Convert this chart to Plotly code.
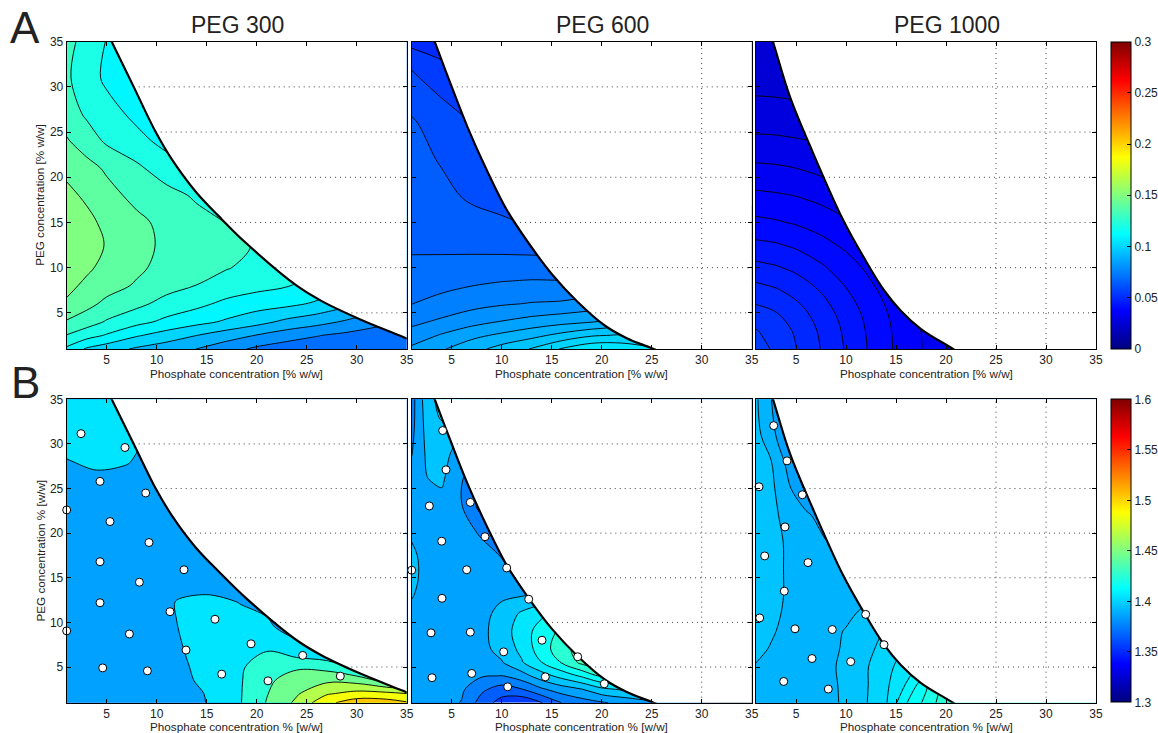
import numpy as np
import plotly.graph_objects as go

# ------------------------------------------------------------------ data
AX_RANGE = [1, 35]
AXIS_TICKS = [5, 10, 15, 20, 25, 30, 35]
CLIM_A = [0.0, 0.3]
CLIM_B = [1.3, 1.6]
CBAR_A_TICKS = [0, 0.05, 0.1, 0.15, 0.2, 0.25, 0.3]
CBAR_A_TEXT = ["0", "0.05", "0.1", "0.15", "0.2", "0.25", "0.3"]
CBAR_B_TICKS = [1.3, 1.35, 1.4, 1.45, 1.5, 1.55, 1.6]
CBAR_B_TEXT = ["1.3", "1.35", "1.4", "1.45", "1.5", "1.55", "1.6"]
PANEL_TITLES = ["PEG 300", "PEG 600", "PEG 1000"]
ROW_LETTERS = ["A", "B"]
XTITLE_A = "Phosphate concentration [% w/w]"
XTITLE_B = "Phosphate concentration % [w/w]"
YTITLE_A = "PEG concentration [% w/w]"
YTITLE_B = "PEG concentration % [w/w]"

# binodal curves (phosphate %, PEG %)
BIN300_X = [5.5, 7.7, 9.9, 11.5, 13.9, 16.2, 18.9, 24.0, 26.5, 30.3, 34.7]
BIN300_Y = [35.0, 30.0, 25.0, 22.0, 18.4, 15.7, 12.75, 8.0, 6.3, 4.3, 2.3]
BIN600_X = [3.3, 4.9, 6.6, 8.5, 10.5, 12.7, 15.0, 17.6, 20.3, 22.5, 25.2]
BIN600_Y = [35.0, 30.3, 25.5, 20.8, 16.4, 12.7, 9.3, 6.2, 3.6, 2.2, 1.0]
BIN1000_X = [2.7, 4.4, 6.7, 9.7, 11.9, 13.8, 15.5, 17.5, 20.7]
BIN1000_Y = [35.0, 28.9, 22.7, 15.3, 10.9, 7.5, 5.2, 3.2, 1.0]

# ---- A row: response 0..0.3
A1_X = [1, 3, 5, 8, 11, 14, 17, 20, 23, 26, 29, 32, 35]
A1_Y = [1, 2.5, 4, 6, 8, 10, 12.5, 15, 18, 21, 24, 27, 31, 35]
A1_Z = [
    [0.113, 0.1037, 0.0993, 0.0935, 0.0893, 0.0849, 0.079, 0.073, 0.0695, 0.0685, 0.0672, 0.0665, 0.066],
    [0.1245, 0.119, 0.114, 0.106, 0.1005, 0.095, 0.0895, 0.0845, 0.0795, 0.0755, 0.0725, 0.070, 0.068],
    [0.134, 0.1295, 0.124, 0.118, 0.1125, 0.108, 0.1035, 0.0985, 0.0925, 0.0885, 0.0835, 0.078, 0.074],
    [0.1435, 0.138, 0.1325, 0.1275, 0.1215, 0.1176, 0.1125, 0.1095, 0.1075, 0.1035, 0.0975, 0.091, 0.086],
    [0.1478, 0.1428, 0.139, 0.1338, 0.1285, 0.1248, 0.121, 0.118, 0.1155, 0.112, 0.107, 0.101, 0.095],
    [0.1505, 0.1468, 0.142, 0.137, 0.1315, 0.128, 0.1255, 0.1225, 0.120, 0.116, 0.111, 0.105, 0.099],
    [0.152, 0.1495, 0.1443, 0.1385, 0.1328, 0.1295, 0.127, 0.1245, 0.122, 0.118, 0.113, 0.107, 0.101],
    [0.1512, 0.1477, 0.1425, 0.1375, 0.132, 0.1285, 0.1248, 0.122, 0.119, 0.115, 0.11, 0.105, 0.10],
    [0.1475, 0.1433, 0.1385, 0.132, 0.1285, 0.1235, 0.120, 0.117, 0.114, 0.110, 0.106, 0.101, 0.096],
    [0.1425, 0.1385, 0.1335, 0.127, 0.1195, 0.114, 0.110, 0.107, 0.104, 0.100, 0.097, 0.093, 0.089],
    [0.136, 0.130, 0.1235, 0.118, 0.112, 0.108, 0.104, 0.101, 0.098, 0.095, 0.092, 0.089, 0.086],
    [0.130, 0.1235, 0.119, 0.1125, 0.108, 0.104, 0.100, 0.097, 0.094, 0.091, 0.088, 0.085, 0.082],
    [0.1265, 0.1195, 0.113, 0.108, 0.104, 0.100, 0.097, 0.094, 0.091, 0.088, 0.085, 0.082, 0.079],
    [0.128, 0.1215, 0.1145, 0.109, 0.105, 0.101, 0.098, 0.095, 0.092, 0.089, 0.086, 0.083, 0.080],
]
A1_LEVELS = [0.065, 0.145, 0.01]

A2_X = [1, 4, 7, 10, 13, 16, 19, 22, 25, 35]
A2_Y = [1, 2.5, 4, 6, 8.5, 10, 12, 14, 18, 22, 26, 29, 32, 35]
A2_Z = [
    [0.0835, 0.0870, 0.0905, 0.0945, 0.0978, 0.1030, 0.1065, 0.1060, 0.1035, 0.1000],
    [0.0797, 0.0830, 0.0862, 0.0885, 0.0910, 0.0940, 0.0970, 0.0980, 0.0975, 0.0950],
    [0.0763, 0.0785, 0.0808, 0.0828, 0.0845, 0.0860, 0.0873, 0.0890, 0.0900, 0.0890],
    [0.0724, 0.0740, 0.0758, 0.0770, 0.0778, 0.0782, 0.0795, 0.0810, 0.0820, 0.0820],
    [0.0700, 0.0708, 0.0716, 0.0724, 0.0728, 0.0727, 0.0735, 0.0745, 0.0755, 0.0760],
    [0.0685, 0.0688, 0.0692, 0.0697, 0.0700, 0.0705, 0.0710, 0.0715, 0.0720, 0.0725],
    [0.0671, 0.0670, 0.0669, 0.0667, 0.0664, 0.0660, 0.0655, 0.0650, 0.0645, 0.0640],
    [0.0667, 0.0662, 0.0655, 0.0645, 0.0630, 0.0610, 0.0595, 0.0585, 0.0575, 0.0560],
    [0.0657, 0.0640, 0.0615, 0.0600, 0.0580, 0.0560, 0.0545, 0.0535, 0.0525, 0.0510],
    [0.0645, 0.0620, 0.0600, 0.0580, 0.0560, 0.0545, 0.0530, 0.0520, 0.0510, 0.0490],
    [0.0630, 0.0605, 0.0575, 0.0555, 0.0535, 0.0520, 0.0505, 0.0495, 0.0485, 0.0470],
    [0.0609, 0.0572, 0.0545, 0.0525, 0.0510, 0.0495, 0.0485, 0.0475, 0.0465, 0.0450],
    [0.0573, 0.0540, 0.0515, 0.0495, 0.0480, 0.0470, 0.0460, 0.0450, 0.0440, 0.0425],
    [0.0510, 0.0495, 0.0480, 0.0470, 0.0460, 0.0450, 0.0440, 0.0430, 0.0420, 0.0400],
]
A2_LEVELS = [0.0525, 0.1025, 0.005]

A3_X = [1, 3, 5, 7.5, 10, 12.5, 15, 17.5, 20, 25, 35]
A3_Y = [1, 3, 5, 7.5, 10, 12.5, 15, 17.5, 20, 25, 30, 35]
A3_Z = [
    [0.0551, 0.0528, 0.0506, 0.0474, 0.0442, 0.0410, 0.0381, 0.0356, 0.0330, 0.0286, 0.0219],
    [0.0537, 0.0521, 0.0501, 0.0470, 0.0439, 0.0408, 0.0380, 0.0355, 0.0329, 0.0285, 0.0219],
    [0.0516, 0.0506, 0.0488, 0.0461, 0.0432, 0.0403, 0.0376, 0.0351, 0.0326, 0.0283, 0.0218],
    [0.0486, 0.0478, 0.0465, 0.0443, 0.0417, 0.0391, 0.0368, 0.0344, 0.0320, 0.0280, 0.0216],
    [0.0454, 0.0448, 0.0438, 0.0420, 0.0399, 0.0377, 0.0356, 0.0333, 0.0312, 0.0275, 0.0213],
    [0.0422, 0.0418, 0.0410, 0.0395, 0.0379, 0.0361, 0.0342, 0.0321, 0.0301, 0.0268, 0.0208],
    [0.0392, 0.0388, 0.0382, 0.0372, 0.0359, 0.0343, 0.0325, 0.0306, 0.0290, 0.0260, 0.0203],
    [0.0366, 0.0363, 0.0359, 0.0350, 0.0338, 0.0323, 0.0308, 0.0292, 0.0279, 0.0252, 0.0198],
    [0.0340, 0.0338, 0.0334, 0.0326, 0.0316, 0.0304, 0.0291, 0.0280, 0.0267, 0.0242, 0.0191],
    [0.0293, 0.0292, 0.0289, 0.0285, 0.0279, 0.0271, 0.0262, 0.0253, 0.0243, 0.0221, 0.0178],
    [0.0258, 0.0257, 0.0255, 0.0252, 0.0247, 0.0241, 0.0234, 0.0226, 0.0218, 0.0200, 0.0163],
    [0.0225, 0.0224, 0.0223, 0.0220, 0.0217, 0.0212, 0.0207, 0.0201, 0.0194, 0.0180, 0.0146],
]
A3_LEVELS = [0.0265, 0.0535, 0.003]

# ---- B row: response 1.3..1.6
B1_X = [1, 4, 7, 9, 12, 15, 18, 21, 24, 27, 30, 33, 35]
B1_Y = [1, 2, 3.5, 5, 7, 9.5, 12, 14, 17, 21, 25, 28, 31, 35]
B1_Z = [
    [1.386, 1.387, 1.387, 1.387, 1.390, 1.3952, 1.411, 1.436, 1.459, 1.490, 1.506, 1.504, 1.497],
    [1.386, 1.387, 1.387, 1.387, 1.390, 1.3955, 1.411, 1.434, 1.453, 1.473, 1.482, 1.481, 1.476],
    [1.386, 1.387, 1.387, 1.388, 1.391, 1.398, 1.411, 1.431, 1.445, 1.451, 1.447, 1.428, 1.420],
    [1.386, 1.387, 1.388, 1.388, 1.392, 1.399, 1.411, 1.425, 1.432, 1.428, 1.410, 1.400, 1.395],
    [1.386, 1.387, 1.388, 1.389, 1.3935, 1.400, 1.407, 1.4135, 1.400, 1.392, 1.390, 1.388, 1.387],
    [1.386, 1.387, 1.388, 1.390, 1.3948, 1.400, 1.401, 1.3975, 1.388, 1.386, 1.385, 1.385, 1.385],
    [1.386, 1.387, 1.388, 1.389, 1.3955, 1.3975, 1.3955, 1.392, 1.387, 1.385, 1.385, 1.385, 1.385],
    [1.386, 1.387, 1.388, 1.389, 1.3935, 1.393, 1.392, 1.389, 1.386, 1.385, 1.385, 1.385, 1.385],
    [1.387, 1.387, 1.388, 1.388, 1.389, 1.389, 1.388, 1.387, 1.386, 1.385, 1.385, 1.385, 1.385],
    [1.388, 1.388, 1.388, 1.388, 1.388, 1.388, 1.387, 1.386, 1.386, 1.385, 1.385, 1.385, 1.385],
    [1.390, 1.391, 1.391, 1.389, 1.388, 1.387, 1.386, 1.386, 1.385, 1.385, 1.385, 1.385, 1.385],
    [1.3945, 1.3968, 1.3955, 1.393, 1.390, 1.388, 1.387, 1.386, 1.386, 1.385, 1.385, 1.385, 1.385],
    [1.399, 1.398, 1.397, 1.395, 1.392, 1.390, 1.388, 1.387, 1.386, 1.385, 1.385, 1.385, 1.385],
    [1.402, 1.401, 1.400, 1.398, 1.394, 1.391, 1.389, 1.388, 1.387, 1.386, 1.385, 1.385, 1.385],
]
B1_LEVELS = [1.375, 1.515, 0.02]

B2_X = [1, 2.5, 4, 6, 8, 10, 12, 14, 16, 18, 20, 22.5, 25, 35]
B2_Y = [1, 2.5, 4, 5.5, 7, 9, 11, 13, 15, 17.5, 20, 23, 26, 29, 32, 35]
B2_Z = [
    [1.386, 1.3855, 1.384, 1.3795, 1.3655, 1.356, 1.352, 1.3598, 1.3702, 1.3755, 1.379, 1.383, 1.388, 1.390],
    [1.386, 1.3855, 1.3845, 1.3815, 1.372, 1.3655, 1.3695, 1.3785, 1.385, 1.3895, 1.3975, 1.402, 1.400, 1.395],
    [1.386, 1.3855, 1.385, 1.3835, 1.3808, 1.3798, 1.3855, 1.3955, 1.4035, 1.4115, 1.4215, 1.422, 1.410, 1.400],
    [1.3862, 1.386, 1.386, 1.386, 1.3865, 1.3892, 1.399, 1.4098, 1.4205, 1.4325, 1.436, 1.430, 1.420, 1.400],
    [1.3865, 1.386, 1.386, 1.386, 1.387, 1.3935, 1.4025, 1.4155, 1.4255, 1.435, 1.435, 1.430, 1.420, 1.400],
    [1.387, 1.386, 1.386, 1.386, 1.3875, 1.395, 1.405, 1.4145, 1.422, 1.428, 1.430, 1.425, 1.415, 1.400],
    [1.388, 1.386, 1.3855, 1.3855, 1.387, 1.393, 1.4015, 1.408, 1.413, 1.418, 1.420, 1.418, 1.410, 1.400],
    [1.3905, 1.387, 1.3855, 1.385, 1.386, 1.3885, 1.3895, 1.392, 1.396, 1.400, 1.405, 1.405, 1.400, 1.395],
    [1.392, 1.3875, 1.3855, 1.385, 1.3845, 1.383, 1.3785, 1.376, 1.380, 1.385, 1.390, 1.395, 1.395, 1.390],
    [1.3915, 1.3875, 1.3855, 1.3848, 1.3845, 1.3795, 1.372, 1.372, 1.375, 1.380, 1.385, 1.390, 1.390, 1.388],
    [1.389, 1.3865, 1.3855, 1.385, 1.3785, 1.362, 1.366, 1.370, 1.375, 1.380, 1.385, 1.387, 1.388, 1.388],
    [1.3865, 1.386, 1.3865, 1.3805, 1.366, 1.362, 1.365, 1.370, 1.375, 1.380, 1.384, 1.386, 1.387, 1.388],
    [1.383, 1.3897, 1.3915, 1.3805, 1.372, 1.368, 1.370, 1.374, 1.378, 1.381, 1.384, 1.386, 1.387, 1.388],
    [1.3795, 1.3915, 1.394, 1.385, 1.378, 1.375, 1.376, 1.378, 1.380, 1.382, 1.384, 1.386, 1.387, 1.388],
    [1.377, 1.3935, 1.399, 1.392, 1.385, 1.380, 1.379, 1.380, 1.382, 1.383, 1.385, 1.386, 1.387, 1.388],
    [1.376, 1.3955, 1.404, 1.400, 1.392, 1.385, 1.382, 1.382, 1.383, 1.384, 1.385, 1.386, 1.387, 1.388],
]
B2_LEVELS = [1.36, 1.43, 0.01]

B3_X = [1, 2.5, 4, 6, 8, 10, 12, 14, 16, 18, 20, 22, 35]
B3_Y = [1, 3, 5, 7, 9, 11, 13, 16, 19, 22, 25, 28, 31, 35]
B3_Z = [
    [1.391, 1.3905, 1.3905, 1.391, 1.3918, 1.3929, 1.3972, 1.4020, 1.4121, 1.4190, 1.4260, 1.430, 1.430],
    [1.3915, 1.391, 1.3905, 1.391, 1.3915, 1.3932, 1.3970, 1.4015, 1.4078, 1.4165, 1.424, 1.428, 1.430],
    [1.3922, 1.3915, 1.391, 1.391, 1.3915, 1.3935, 1.397, 1.401, 1.405, 1.410, 1.415, 1.420, 1.420],
    [1.3935, 1.3922, 1.391, 1.3905, 1.391, 1.3932, 1.396, 1.3995, 1.403, 1.407, 1.410, 1.412, 1.415],
    [1.394, 1.393, 1.3915, 1.3905, 1.391, 1.3928, 1.395, 1.398, 1.400, 1.403, 1.405, 1.407, 1.410],
    [1.3945, 1.3935, 1.392, 1.3905, 1.3905, 1.3915, 1.3935, 1.396, 1.398, 1.400, 1.402, 1.403, 1.405],
    [1.395, 1.394, 1.3922, 1.391, 1.390, 1.3905, 1.3915, 1.393, 1.395, 1.397, 1.398, 1.399, 1.400],
    [1.395, 1.394, 1.3922, 1.3905, 1.3895, 1.389, 1.390, 1.391, 1.392, 1.393, 1.394, 1.395, 1.396],
    [1.3948, 1.3938, 1.3922, 1.3902, 1.3878, 1.386, 1.387, 1.388, 1.389, 1.390, 1.391, 1.392, 1.393],
    [1.3945, 1.3935, 1.3915, 1.3888, 1.384, 1.382, 1.383, 1.384, 1.385, 1.386, 1.387, 1.388, 1.390],
    [1.394, 1.3935, 1.3895, 1.3815, 1.379, 1.379, 1.380, 1.381, 1.382, 1.383, 1.384, 1.385, 1.387],
    [1.3935, 1.3927, 1.3868, 1.376, 1.375, 1.376, 1.377, 1.378, 1.379, 1.380, 1.381, 1.382, 1.385],
    [1.3935, 1.3905, 1.381, 1.375, 1.373, 1.373, 1.374, 1.375, 1.376, 1.377, 1.378, 1.380, 1.383],
    [1.3932, 1.3878, 1.378, 1.372, 1.370, 1.370, 1.371, 1.372, 1.373, 1.374, 1.375, 1.377, 1.380],
]
B3_LEVELS = [1.3825, 1.4225, 0.005]

# experimental design points (bottom row)
B1_PTS_X = [2.43, 6.83, 4.33, 8.9, 1.0, 5.33, 9.23, 4.33, 12.73, 8.27, 4.33, 11.33, 15.83, 1.0,
            7.27, 19.43, 12.93, 24.6, 4.6, 28.36, 9.07, 16.5, 21.13]
B1_PTS_Y = [31.15, 29.6, 25.8, 24.5, 22.6, 21.3, 18.95, 16.8, 15.9, 14.5, 12.2, 11.2, 10.35, 9.05,
            8.7, 7.6, 6.9, 6.3, 4.9, 3.98, 4.57, 4.2, 3.45]
B2_PTS_X = [4.1, 4.43, 2.76, 6.86, 4.0, 8.33, 1.0, 6.5, 10.5, 4.03, 12.7, 2.93, 6.86, 14.03,
            10.2, 17.6, 3.03, 7.0, 14.36, 20.26, 10.6]
B2_PTS_Y = [31.5, 27.1, 23.05, 23.45, 19.1, 19.6, 15.85, 15.9, 16.1, 12.7, 12.6, 8.83, 8.9, 8.0,
            6.7, 6.15, 3.8, 4.28, 3.9, 3.12, 2.78]
B3_PTS_X = [2.77, 4.1, 1.3, 5.63, 3.9, 1.87, 6.2, 3.83, 1.37, 11.97, 4.9, 8.63, 13.8, 6.6,
            10.47, 3.77, 8.23]
B3_PTS_Y = [32.05, 28.1, 25.2, 24.3, 20.7, 17.45, 16.7, 13.5, 10.5, 10.9, 9.28, 9.2, 7.5, 5.95,
            5.6, 3.38, 2.53]

# ------------------------------------------------------------------ helpers
W, H = 1158, 733
FONT = "Liberation Sans, Arial, Helvetica, sans-serif"
INK = "#222222"


def jet(t):
    t = min(max(t, 0.0), 1.0)
    r = min(max(min(4 * t - 1.5, -4 * t + 4.5), 0.0), 1.0)
    g = min(max(min(4 * t - 0.5, -4 * t + 3.5), 0.0), 1.0)
    b = min(max(min(4 * t + 0.5, -4 * t + 2.5), 0.0), 1.0)
    return "rgb(%d,%d,%d)" % (round(r * 255), round(g * 255), round(b * 255))


JET = [[i / 64, jet(i / 64)] for i in range(65)]


def band_scale(levels, clim):
    """colorscale so that each filled band gets jet() of its mid value"""
    start, end, size = levels
    nc = int(np.floor((end - start) / size + 1e-6)) + 1
    lo = start - size / 2.0
    out = []
    for k in range(nc + 1):
        v = lo + k * size
        out.append([k / nc, jet((v - clim[0]) / (clim[1] - clim[0]))])
    return out


def outside_extensions(bx, by):
    """helper points beyond the axis range that continue the curve's end directions"""
    p0, p1 = np.array([bx[0], by[0]]), np.array([bx[1], by[1]])
    q0, q1 = np.array([bx[-1], by[-1]]), np.array([bx[-2], by[-2]])
    es = p0 + (p0 - p1) / np.linalg.norm(p0 - p1) * 12
    ee = q0 + (q0 - q1) / np.linalg.norm(q0 - q1) * 12
    return es, ee


# panel geometry in pixels
COLS = [(66.7, 406.7), (411.7, 751.7), (756.0, 1096.0)]
ROWS = [(41.7, 349.0), (399.3, 702.7)]
CBAR_X = 1110.7

fig = go.Figure()

panels = [
    (0, 0, A1_X, A1_Y, A1_Z, A1_LEVELS, CLIM_A, BIN300_X, BIN300_Y, None, None),
    (0, 1, A2_X, A2_Y, A2_Z, A2_LEVELS, CLIM_A, BIN600_X, BIN600_Y, None, None),
    (0, 2, A3_X, A3_Y, A3_Z, A3_LEVELS, CLIM_A, BIN1000_X, BIN1000_Y, None, None),
    (1, 0, B1_X, B1_Y, B1_Z, B1_LEVELS, CLIM_B, BIN300_X, BIN300_Y, B1_PTS_X, B1_PTS_Y),
    (1, 1, B2_X, B2_Y, B2_Z, B2_LEVELS, CLIM_B, BIN600_X, BIN600_Y, B2_PTS_X, B2_PTS_Y),
    (1, 2, B3_X, B3_Y, B3_Z, B3_LEVELS, CLIM_B, BIN1000_X, BIN1000_Y, B3_PTS_X, B3_PTS_Y),
]

layout_axes = {}
for idx, (r, c, xs, ys, zz, lev, clim, bx, by, px, py) in enumerate(panels):
    n = idx + 1
    xa = "x" if n == 1 else "x%d" % n
    ya = "y" if n == 1 else "y%d" % n

    fig.add_trace(go.Contour(
        x=xs, y=ys, z=zz, autocontour=False,
        contours=dict(start=lev[0], end=lev[1], size=lev[2], coloring="fill", showlines=True),
        line=dict(color="black", width=0.9, smoothing=1.0),
        colorscale=band_scale(lev, clim), showscale=False, hoverinfo="skip",
        xaxis=xa, yaxis=ya))

    es, ee = outside_extensions(bx, by)
    far_hi = (AX_RANGE[1] + 40, AX_RANGE[1] + 40)
    far_lo = (AX_RANGE[1] + 40, AX_RANGE[0] - 40)
    # white mask above the binodal (smooth path, helper points outside the axes)
    mx = [far_hi[0], es[0]] + list(bx) + [ee[0], far_lo[0]]
    my = [far_hi[1], es[1]] + list(by) + [ee[1], far_lo[1]]
    fig.add_trace(go.Scatter(x=mx, y=my, mode="lines", fill="toself", fillcolor="white",
                             line=dict(width=0, color="white", shape="spline", smoothing=1.0),
                             hoverinfo="skip", xaxis=xa, yaxis=ya))

    # dotted grid, visible only in the white (two-phase) region
    gx, gy = [], []
    bxr, byr = np.array(bx)[::-1], np.array(by)[::-1]
    for g in AXIS_TICKS[:-1]:
        if g >= bx[0]:
            y0 = float(np.interp(g, bxr, byr)) if g <= bx[-1] else AX_RANGE[0]
            gx += [g, g, None]
            gy += [y0, AX_RANGE[1], None]
        if g >= by[-1]:
            x0 = float(np.interp(g, byr, bxr))
            gx += [x0, AX_RANGE[1], None]
            gy += [g, g, None]
    fig.add_trace(go.Scatter(x=gx, y=gy, mode="lines",
                             line=dict(color="#444444", width=1, dash="1px,4px"),
                             hoverinfo="skip", xaxis=xa, yaxis=ya))

    # binodal line
    lx = [es[0]] + list(bx) + [ee[0]]
    ly = [es[1]] + list(by) + [ee[1]]
    fig.add_trace(go.Scatter(x=lx, y=ly, mode="lines",
                             line=dict(color="black", width=2.2, shape="spline", smoothing=1.0),
                             hoverinfo="skip", xaxis=xa, yaxis=ya))

    if px is not None:
        fig.add_trace(go.Scatter(x=px, y=py, mode="markers", cliponaxis=False,
                                 marker=dict(size=8, color="white",
                                             line=dict(color="black", width=1)),
                                 hoverinfo="skip", xaxis=xa, yaxis=ya))

    x0p, x1p = COLS[c]
    y0p, y1p = ROWS[r]
    common = dict(range=AX_RANGE, tickvals=AXIS_TICKS, ticks="inside", ticklen=4,
                  tickwidth=1, tickcolor="black", showline=True, linecolor="black",
                  linewidth=1, mirror="ticks", showgrid=False, zeroline=False,
                  tickfont=dict(size=12, color=INK, family=FONT), fixedrange=True)
    layout_axes["xaxis" if n == 1 else "xaxis%d" % n] = dict(
        common, domain=[x0p / W, x1p / W], anchor=ya)
    layout_axes["yaxis" if n == 1 else "yaxis%d" % n] = dict(
        common, domain=[1 - y1p / H, 1 - y0p / H], anchor=xa,
        showticklabels=(c == 0))

# colour bars (continuous jet) via invisible helper markers
for r, (clim, tv, tt) in enumerate([(CLIM_A, CBAR_A_TICKS, CBAR_A_TEXT),
                                    (CLIM_B, CBAR_B_TICKS, CBAR_B_TEXT)]):
    y0p, y1p = ROWS[r]
    n = 3 if r == 0 else 6
    fig.add_trace(go.Scatter(
        x=[AX_RANGE[1]], y=[AX_RANGE[1]], mode="markers", hoverinfo="skip",
        marker=dict(size=1, opacity=0, color=[clim[0]], cmin=clim[0], cmax=clim[1],
                    colorscale=JET, showscale=True,
                    colorbar=dict(x=CBAR_X / W, xanchor="left", xpad=0,
                                  y=1 - y0p / H, yanchor="top", ypad=0,
                                  len=y1p - y0p, lenmode="pixels",
                                  thickness=20, thicknessmode="pixels",
                                  outlinewidth=1, outlinecolor="black",
                                  ticks="inside", ticklen=4, tickcolor="black",
                                  tickvals=tv, ticktext=tt,
                                  tickfont=dict(size=12, color=INK, family=FONT))),
        xaxis="x%d" % n, yaxis="y%d" % n))

ann = []
title_cx = [237, 602, 947]
for c, t in enumerate(PANEL_TITLES):
    ann.append(dict(text=t, x=title_cx[c] / W, y=1 - 25 / H, xref="paper", yref="paper",
                    xanchor="center", yanchor="middle", showarrow=False,
                    font=dict(size=23, color=INK, family=FONT)))
for r, (xt, yt) in enumerate([(XTITLE_A, YTITLE_A), (XTITLE_B, YTITLE_B)]):
    y0p, y1p = ROWS[r]
    for c in range(3):
        x0p, x1p = COLS[c]
        ann.append(dict(text=xt, x=(x0p + x1p) / 2 / W, y=1 - (y1p + 24) / H,
                        xref="paper", yref="paper", xanchor="center", yanchor="middle",
                        showarrow=False, font=dict(size=11.7, color=INK, family=FONT)))
    ann.append(dict(text=yt, x=39.5 / W, y=1 - (y0p + y1p) / 2 / H, xref="paper",
                    yref="paper", xanchor="center", yanchor="middle", textangle=-90,
                    showarrow=False, font=dict(size=11.7, color=INK, family=FONT)))
for r, letter in enumerate(ROW_LETTERS):
    top = [1, 356][r]
    ann.append(dict(text=letter, x=25 / W, y=1 - top / H, xref="paper", yref="paper",
                    xanchor="center", yanchor="top", showarrow=False,
                    font=dict(size=44, color=INK, family=FONT)))

fig.update_layout(
    width=W, height=H, margin=dict(l=0, r=0, t=0, b=0, autoexpand=False),
    paper_bgcolor="white", plot_bgcolor="white", showlegend=False,
    font=dict(family=FONT, color=INK), annotations=ann, **layout_axes)

fig.write_html("out.html")
